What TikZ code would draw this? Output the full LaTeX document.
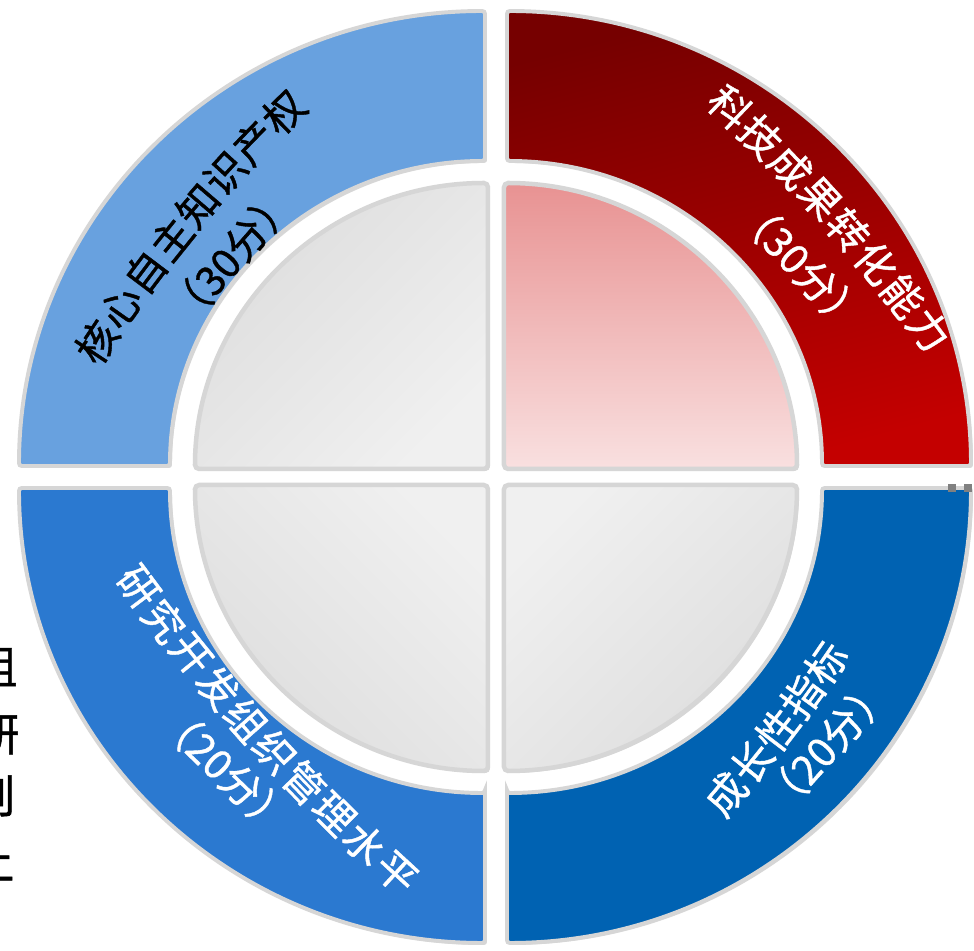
\documentclass[tikz,border=0pt]{standalone}
\usepackage{fontspec}
\newfontfamily\cjkfont[FakeBold=1]{Noto Sans CJK SC}
\definecolor{ringlight}{RGB}{104,161,223}
\definecolor{ringmid}{RGB}{43,121,208}
\definecolor{ringdark}{RGB}{0,98,178}
\definecolor{redtop}{RGB}{118,0,0}
\definecolor{redbot}{RGB}{196,0,0}
\definecolor{pinktop}{RGB}{232,146,146}
\definecolor{pinkbot}{RGB}{249,224,224}
\definecolor{pielight}{RGB}{240,240,240}
\definecolor{piedark}{RGB}{221,221,221}
\definecolor{edgegray}{RGB}{214,214,214}
\definecolor{handlegray}{RGB}{128,128,128}
\usetikzlibrary{calc, shadows}
\tikzset{
	ringpiece/.style={draw=edgegray, line width=2.8pt, rounded corners=2pt, drop shadow={shadow xshift=1.4pt, shadow yshift=-1.4pt, opacity=0.3}},
	piepiece/.style={draw=edgegray, line width=3.2pt, rounded corners=3pt, drop shadow={shadow xshift=1.4pt, shadow yshift=-1.4pt, opacity=0.3}},
	arctext/.style={font=\cjkfont\fontsize{29}{31}\selectfont, inner sep=0pt},
	darktext/.style={arctext, text=black},
	lighttext/.style={arctext, text=white},
	fragtext/.style={font=\cjkfont\fontsize{32}{34}\selectfont, inner sep=0pt, text=black},
}

\begin{document}
\begin{tikzpicture}[x=0.025cm, y=0.025cm]
	\useasboundingbox (-496,-474) rectangle (478,477);
	\fill[white] (-496,-474) rectangle (478,477);
	% outer ring
	\path[ringpiece, fill=ringlight] (-11,316) -- (-11,466) arc[start angle=90, end angle=180, x radius=466, y radius=455] -- (-326,11) arc[start angle=180, end angle=90, x radius=315, y radius=305] -- cycle;
	\path[ringpiece, top color=redtop, bottom color=redbot, shading angle=15] (11,316) -- (11,466) arc[start angle=90, end angle=0, x radius=464, y radius=455] -- (326,11) arc[start angle=0, end angle=90, x radius=315, y radius=305] -- cycle;
	\path[ringpiece, fill=ringmid] (-11,-316) -- (-11,-466) arc[start angle=270, end angle=180, x radius=466, y radius=455] -- (-326,-11) arc[start angle=180, end angle=270, x radius=315, y radius=305] -- cycle;
	\path[ringpiece, fill=ringdark] (11,-316) -- (11,-466) arc[start angle=270, end angle=360, x radius=464, y radius=455] -- (326,-11) arc[start angle=360, end angle=270, x radius=315, y radius=305] -- cycle;
	% inner pies
	\path[piepiece, top color=piedark, bottom color=pielight, shading angle=45] (-8,8) -- (-8,294) arc[start angle=90, end angle=180, x radius=293, y radius=286] -- cycle;
	\path[piepiece, top color=pinktop, bottom color=pinkbot] (8,8) -- (8,294) arc[start angle=90, end angle=0, x radius=293, y radius=286] -- cycle;
	\path[piepiece, top color=piedark, bottom color=pielight, shading angle=135] (-8,-8) -- (-8,-294) arc[start angle=270, end angle=180, x radius=293, y radius=286] -- cycle;
	\path[piepiece, top color=piedark, bottom color=pielight, shading angle=-135] (8,-8) -- (8,-294) arc[start angle=270, end angle=360, x radius=293, y radius=286] -- cycle;
	% labels along the ring
	\foreach \ch [count=\i from 0] in {核,心,自,主,知,识,产,权} {
		\pgfmathsetmacro{\pos}{\i/7}
		\pgfmathsetmacro{\bow}{4*\pos*(1-\pos)}
		\node[darktext, rotate=56.5-12.4*\pos] (tl\i) at ($(-399,135)!\pos!(-212,365) + (-6.2*\bow,5.1*\bow)$) {\ch};
	}
	\node[darktext, rotate=48.8] (tlscore) at (-265,221) {（30分）};
	\foreach \ch [count=\i from 0] in {科,技,成,果,转,化,能,力} {
		\pgfmathsetmacro{\pos}{\i/7}
		\pgfmathsetmacro{\bow}{4*\pos*(1-\pos)}
		\node[lighttext, rotate=-43.7-9.2*\pos] (tr\i) at ($(234,370)!\pos!(433,147) + (4.5*\bow,4.0*\bow)$) {\ch};
	}
	\node[lighttext, rotate=-47] (trscore) at (305,212) {（30分）};
	\foreach \ch [count=\i from 0] in {研,究,开,发,组,织,管,理,水,平} {
		\pgfmathsetmacro{\pos}{\i/9}
		\pgfmathsetmacro{\bow}{4*\pos*(1-\pos)}
		\node[lighttext, rotate=-53.3+10.7*\pos] (bl\i) at ($(-358,-110)!\pos!(-100,-396) + (-6.7*\bow,-6.0*\bow)$) {\ch};
	}
	\node[lighttext, rotate=-44] (blscore) at (-271,-293) {（20分）};
	\foreach \ch [count=\i from 0] in {成,长,性,指,标} {
		\pgfmathsetmacro{\pos}{\i/4}
		\pgfmathsetmacro{\bow}{4*\pos*(1-\pos)}
		\node[lighttext, rotate=49.8+5.6*\pos] (br\i) at ($(230,-317)!\pos!(330,-186) + (1.6*\bow,-1.2*\bow)$) {\ch};
	}
	\node[lighttext, rotate=48] (brscore) at (331,-268) {（20分）};
	% cut-off text at the left edge
	\node[fragtext] (frag1) at (-501,-189) {组};
	\node[fragtext] (frag2) at (-499,-258) {研};
	\node[fragtext] (frag3) at (-503,-319) {则};
	\node[fragtext] (frag4) at (-504,-384) {上};
	% selection handles
	\fill[handlegray] (452,-7) rectangle (460,-15);
	\fill[handlegray] (468,-7) rectangle (476,-15);
\end{tikzpicture}
\end{document}
